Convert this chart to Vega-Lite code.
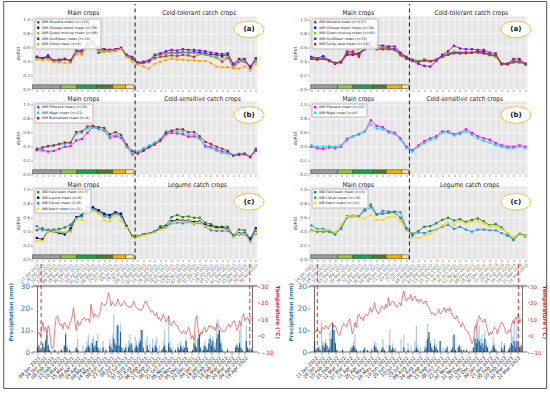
{
"$schema": "https://vega.github.io/schema/vega-lite/v6.json",
"padding": {"left": 2.5, "top": 0.5, "right": 0, "bottom": 0},
"background": "white",
"bounds": "flush",
"columns": 2,
"spacing": {"row": 12, "column": 52},
"resolve": {"scale": {"color": "independent"}, "legend": {"color": "independent"}},
"config": {
  "font": "DejaVu Sans",
  "view": {"fill": "#e5e5e5", "stroke": null},
  "axis": {"domain": false, "tickColor": "#666", "tickSize": 2, "tickWidth": 0.6, "labelFontSize": 4.2, "labelColor": "#555", "labelPadding": 1, "gridColor": "white", "gridWidth": 0.7, "titleFontSize": 4.6, "titleFontWeight": "normal", "titleColor": "#333", "titlePadding": 2, "labelFlush": false},
  "legend": {"orient": "top-left", "offset": 2, "padding": 2, "labelFontSize": 3.4, "labelColor": "#222", "symbolSize": 6, "symbolType": "square", "symbolStrokeWidth": 0, "rowPadding": 0.5, "fillColor": "rgba(255,255,255,0.85)", "strokeColor": "#bbbbbb", "cornerRadius": 1, "labelLimit": 300, "labelOffset": 2}
},
"datasets": {
  "sl": [{"a":-0.77,"b":4.27,"k":"s1"},{"a":4.27,"b":7.12,"k":"s2"},{"a":7.12,"b":10.74,"k":"s3"},{"a":10.74,"b":13.5,"k":"s4"},{"a":13.5,"b":15.8,"k":"s5"},{"a":15.8,"b":17.3,"k":"s6"}],
  "sr": [{"a":-0.1,"b":4.4,"k":"s1"},{"a":4.4,"b":7.0,"k":"s2"},{"a":7.0,"b":10.4,"k":"s3"},{"a":10.4,"b":12.6,"k":"s4"},{"a":12.6,"b":15.2,"k":"s5"},{"a":15.2,"b":16.4,"k":"s6"}],
  "la": [
{"i":0,"mu":0.45,"or":0.47,"gm":0.45,"su":0.47,"gr":0.43},
{"i":1,"mu":0.44,"or":0.45,"gm":0.44,"su":0.45,"gr":0.42},
{"i":2,"mu":0.45,"or":0.49,"gm":0.46,"su":0.47,"gr":0.43},
{"i":3,"mu":0.41,"or":0.42,"gm":0.42,"su":0.42,"gr":0.40},
{"i":4,"mu":0.41,"or":0.42,"gm":0.42,"su":0.43,"gr":0.39},
{"i":5,"mu":0.43,"or":0.44,"gm":0.43,"su":0.44,"gr":0.38},
{"i":6,"mu":0.40,"or":0.41,"gm":0.41,"su":0.42,"gr":0.38},
{"i":7,"mu":0.53,"or":0.55,"gm":0.54,"su":0.56,"gr":0.50},
{"i":8,"mu":0.53,"or":0.55,"gm":0.54,"su":0.56,"gr":0.50},
{"i":9,"mu":0.63,"or":0.64,"gm":0.64,"su":0.66,"gr":0.60},
{"i":10,"mu":0.66,"or":0.67,"gm":0.67,"su":0.69,"gr":0.64},
{"i":11,"mu":0.61,"or":0.53,"gm":0.56,"su":0.57,"gr":0.55},
{"i":12,"mu":0.58,"or":0.55,"gm":0.56,"su":0.58,"gr":0.54},
{"i":13,"mu":0.57,"or":0.55,"gm":0.56,"su":0.57,"gr":0.55},
{"i":14,"mu":0.58,"or":0.56,"gm":0.57,"su":0.58,"gr":0.56},
{"i":15,"mu":0.59,"or":0.59,"gm":0.59,"su":0.60,"gr":0.58},
{"i":16,"mu":0.48,"or":0.49,"gm":0.49,"su":0.50,"gr":0.47},
{"i":17,"mu":0.44,"or":0.45,"gm":0.46,"su":0.47,"gr":0.40},
{"i":18,"mu":0.37,"or":0.37,"gm":0.38,"su":0.39,"gr":0.36},
{"i":19,"mu":0.38,"or":0.39,"gm":0.39,"su":0.40,"gr":0.33},
{"i":20,"mu":0.40,"or":0.41,"gm":0.41,"su":0.42,"gr":0.30},
{"i":21,"mu":0.45,"or":0.48,"gm":0.48,"su":0.50,"gr":0.37},
{"i":22,"mu":0.47,"or":0.50,"gm":0.50,"su":0.52,"gr":0.40},
{"i":23,"mu":0.48,"or":0.52,"gm":0.51,"su":0.55,"gr":0.42},
{"i":24,"mu":0.49,"or":0.53,"gm":0.52,"su":0.57,"gr":0.44},
{"i":25,"mu":0.48,"or":0.52,"gm":0.51,"su":0.56,"gr":0.43},
{"i":26,"mu":0.50,"or":0.54,"gm":0.53,"su":0.58,"gr":0.43},
{"i":27,"mu":0.49,"or":0.53,"gm":0.52,"su":0.57,"gr":0.42},
{"i":28,"mu":0.47,"or":0.54,"gm":0.52,"su":0.57,"gr":0.42},
{"i":29,"mu":0.51,"or":0.53,"gm":0.51,"su":0.56,"gr":0.41},
{"i":30,"mu":0.50,"or":0.52,"gm":0.50,"su":0.55,"gr":0.41},
{"i":31,"mu":0.48,"or":0.50,"gm":0.48,"su":0.53,"gr":0.38},
{"i":32,"mu":0.46,"or":0.50,"gm":0.47,"su":0.52,"gr":0.33},
{"i":33,"mu":0.40,"or":0.48,"gm":0.45,"su":0.51,"gr":0.32},
{"i":34,"mu":0.46,"or":0.50,"gm":0.47,"su":0.52,"gr":0.32},
{"i":35,"mu":0.31,"or":0.35,"gm":0.34,"su":0.37,"gr":0.31},
{"i":36,"mu":0.40,"or":0.42,"gm":0.41,"su":0.44,"gr":0.30},
{"i":37,"mu":0.40,"or":0.42,"gm":0.41,"su":0.44,"gr":0.33},
{"i":38,"mu":0.31,"or":0.33,"gm":0.32,"su":0.32,"gr":0.27},
{"i":39,"mu":0.41,"or":0.44,"gm":0.42,"su":0.45,"gr":0.37}
  ],
  "lb": [
{"i":0,"ph":0.35,"ni":0.38,"bu":0.36},
{"i":1,"ph":0.35,"ni":0.37,"bu":0.39},
{"i":2,"ph":0.33,"ni":0.40,"bu":0.41},
{"i":3,"ph":0.34,"ni":0.41,"bu":0.42},
{"i":4,"ph":0.37,"ni":0.43,"bu":0.44},
{"i":5,"ph":0.40,"ni":0.44,"bu":0.46},
{"i":6,"ph":0.41,"ni":0.45,"bu":0.46},
{"i":7,"ph":0.49,"ni":0.58,"bu":0.61},
{"i":8,"ph":0.51,"ni":0.60,"bu":0.62},
{"i":9,"ph":0.60,"ni":0.66,"bu":0.69},
{"i":10,"ph":0.68,"ni":0.68,"bu":0.70},
{"i":11,"ph":0.66,"ni":0.65,"bu":0.68},
{"i":12,"ph":0.63,"ni":0.64,"bu":0.67},
{"i":13,"ph":0.53,"ni":0.55,"bu":0.58},
{"i":14,"ph":0.55,"ni":0.57,"bu":0.61},
{"i":15,"ph":0.53,"ni":0.55,"bu":0.57},
{"i":16,"ph":0.40,"ni":0.41,"bu":0.43},
{"i":17,"ph":0.29,"ni":0.31,"bu":0.34},
{"i":18,"ph":0.32,"ni":0.33,"bu":0.30},
{"i":19,"ph":0.36,"ni":0.38,"bu":0.34},
{"i":20,"ph":0.40,"ni":0.42,"bu":0.39},
{"i":21,"ph":0.44,"ni":0.46,"bu":0.43},
{"i":22,"ph":0.48,"ni":0.50,"bu":0.50},
{"i":23,"ph":0.58,"ni":0.62,"bu":0.60},
{"i":24,"ph":0.60,"ni":0.63,"bu":0.63},
{"i":25,"ph":0.59,"ni":0.61,"bu":0.65},
{"i":26,"ph":0.58,"ni":0.62,"bu":0.65},
{"i":27,"ph":0.54,"ni":0.57,"bu":0.61},
{"i":28,"ph":0.55,"ni":0.57,"bu":0.61},
{"i":29,"ph":0.52,"ni":0.52,"bu":0.55},
{"i":30,"ph":0.41,"ni":0.39,"bu":0.47},
{"i":31,"ph":0.40,"ni":0.38,"bu":0.44},
{"i":32,"ph":0.36,"ni":0.34,"bu":0.40},
{"i":33,"ph":0.33,"ni":0.31,"bu":0.37},
{"i":34,"ph":0.32,"ni":0.30,"bu":0.34},
{"i":35,"ph":0.28,"ni":0.28,"bu":0.27},
{"i":36,"ph":0.28,"ni":0.30,"bu":0.29},
{"i":37,"ph":0.29,"ni":0.30,"bu":0.30},
{"i":38,"ph":0.25,"ni":0.26,"bu":0.25},
{"i":39,"ph":0.34,"ni":0.38,"bu":0.36}
  ],
  "lc": [
{"i":0,"fb":0.42,"lu":0.31,"cl":0.48,"ve":0.27},
{"i":1,"fb":0.45,"lu":0.29,"cl":0.42,"ve":0.27},
{"i":2,"fb":0.40,"lu":0.41,"cl":0.43,"ve":0.40},
{"i":3,"fb":0.43,"lu":0.40,"cl":0.42,"ve":0.40},
{"i":4,"fb":0.44,"lu":0.38,"cl":0.40,"ve":0.40},
{"i":5,"fb":0.46,"lu":0.36,"cl":0.38,"ve":0.40},
{"i":6,"fb":0.50,"lu":0.45,"cl":0.41,"ve":0.39},
{"i":7,"fb":0.60,"lu":0.61,"cl":0.60,"ve":0.57},
{"i":8,"fb":0.64,"lu":0.63,"cl":0.62,"ve":0.57},
{"i":9,"fb":0.75,"lu":0.75,"cl":0.73,"ve":0.70},
{"i":10,"fb":0.73,"lu":0.75,"cl":0.72,"ve":0.70},
{"i":11,"fb":0.70,"lu":0.71,"cl":0.68,"ve":0.66},
{"i":12,"fb":0.64,"lu":0.66,"cl":0.62,"ve":0.56},
{"i":13,"fb":0.63,"lu":0.64,"cl":0.60,"ve":0.55},
{"i":14,"fb":0.67,"lu":0.68,"cl":0.66,"ve":0.63},
{"i":15,"fb":0.64,"lu":0.66,"cl":0.62,"ve":0.56},
{"i":16,"fb":0.48,"lu":0.48,"cl":0.47,"ve":0.46},
{"i":17,"fb":0.34,"lu":0.33,"cl":0.33,"ve":0.32},
{"i":18,"fb":0.34,"lu":0.33,"cl":0.33,"ve":0.33},
{"i":19,"fb":0.36,"lu":0.36,"cl":0.36,"ve":0.35},
{"i":20,"fb":0.38,"lu":0.38,"cl":0.38,"ve":0.37},
{"i":21,"fb":0.40,"lu":0.40,"cl":0.40,"ve":0.39},
{"i":22,"fb":0.48,"lu":0.45,"cl":0.44,"ve":0.43},
{"i":23,"fb":0.49,"lu":0.47,"cl":0.46,"ve":0.46},
{"i":24,"fb":0.61,"lu":0.55,"cl":0.52,"ve":0.53},
{"i":25,"fb":0.64,"lu":0.57,"cl":0.53,"ve":0.55},
{"i":26,"fb":0.61,"lu":0.56,"cl":0.52,"ve":0.55},
{"i":27,"fb":0.62,"lu":0.56,"cl":0.54,"ve":0.55},
{"i":28,"fb":0.60,"lu":0.54,"cl":0.51,"ve":0.52},
{"i":29,"fb":0.60,"lu":0.55,"cl":0.53,"ve":0.54},
{"i":30,"fb":0.53,"lu":0.50,"cl":0.47,"ve":0.48},
{"i":31,"fb":0.51,"lu":0.48,"cl":0.42,"ve":0.46},
{"i":32,"fb":0.47,"lu":0.46,"cl":0.41,"ve":0.44},
{"i":33,"fb":0.47,"lu":0.46,"cl":0.41,"ve":0.44},
{"i":34,"fb":0.47,"lu":0.44,"cl":0.41,"ve":0.43},
{"i":35,"fb":0.35,"lu":0.33,"cl":0.34,"ve":0.32},
{"i":36,"fb":0.43,"lu":0.38,"cl":0.36,"ve":0.37},
{"i":37,"fb":0.42,"lu":0.38,"cl":0.36,"ve":0.37},
{"i":38,"fb":0.29,"lu":0.30,"cl":0.27,"ve":0.24},
{"i":39,"fb":0.40,"lu":0.45,"cl":0.37,"ve":0.38}
  ],
  "ra": [
{"i":0,"mu":0.45,"or":0.47,"gm":0.45,"su":0.44,"tr":0.44},
{"i":1,"mu":0.44,"or":0.45,"gm":0.44,"su":0.43,"tr":0.43},
{"i":2,"mu":0.45,"or":0.48,"gm":0.45,"su":0.44,"tr":0.44},
{"i":3,"mu":0.41,"or":0.42,"gm":0.42,"su":0.42,"tr":0.41},
{"i":4,"mu":0.38,"or":0.38,"gm":0.39,"su":0.37,"tr":0.38},
{"i":5,"mu":0.39,"or":0.40,"gm":0.40,"su":0.39,"tr":0.40},
{"i":6,"mu":0.55,"or":0.50,"gm":0.52,"su":0.50,"tr":0.53},
{"i":7,"mu":0.55,"or":0.50,"gm":0.53,"su":0.50,"tr":0.53},
{"i":8,"mu":0.47,"or":0.52,"gm":0.58,"su":0.52,"tr":0.50},
{"i":9,"mu":0.60,"or":0.58,"gm":0.60,"su":0.60,"tr":0.58},
{"i":10,"mu":0.62,"or":0.63,"gm":0.63,"su":0.68,"tr":0.62},
{"i":11,"mu":0.58,"or":0.60,"gm":0.60,"su":0.64,"tr":0.58},
{"i":12,"mu":0.58,"or":0.60,"gm":0.60,"su":0.63,"tr":0.58},
{"i":13,"mu":0.58,"or":0.60,"gm":0.59,"su":0.62,"tr":0.58},
{"i":14,"mu":0.57,"or":0.58,"gm":0.57,"su":0.62,"tr":0.57},
{"i":15,"mu":0.50,"or":0.52,"gm":0.51,"su":0.53,"tr":0.49},
{"i":16,"mu":0.45,"or":0.46,"gm":0.45,"su":0.47,"tr":0.44},
{"i":17,"mu":0.42,"or":0.43,"gm":0.43,"su":0.41,"tr":0.42},
{"i":18,"mu":0.40,"or":0.41,"gm":0.41,"su":0.37,"tr":0.40},
{"i":19,"mu":0.41,"or":0.43,"gm":0.42,"su":0.34,"tr":0.42},
{"i":20,"mu":0.40,"or":0.41,"gm":0.40,"su":0.33,"tr":0.41},
{"i":21,"mu":0.42,"or":0.43,"gm":0.42,"su":0.41,"tr":0.42},
{"i":22,"mu":0.47,"or":0.49,"gm":0.48,"su":0.50,"tr":0.47},
{"i":23,"mu":0.50,"or":0.51,"gm":0.52,"su":0.55,"tr":0.50},
{"i":24,"mu":0.53,"or":0.54,"gm":0.55,"su":0.63,"tr":0.52},
{"i":25,"mu":0.52,"or":0.53,"gm":0.54,"su":0.59,"tr":0.52},
{"i":26,"mu":0.52,"or":0.53,"gm":0.54,"su":0.58,"tr":0.53},
{"i":27,"mu":0.53,"or":0.53,"gm":0.54,"su":0.58,"tr":0.53},
{"i":28,"mu":0.54,"or":0.55,"gm":0.53,"su":0.57,"tr":0.53},
{"i":29,"mu":0.53,"or":0.54,"gm":0.51,"su":0.57,"tr":0.52},
{"i":30,"mu":0.50,"or":0.50,"gm":0.49,"su":0.53,"tr":0.50},
{"i":31,"mu":0.49,"or":0.48,"gm":0.47,"su":0.52,"tr":0.49},
{"i":32,"mu":0.37,"or":0.36,"gm":0.36,"su":0.37,"tr":0.37},
{"i":33,"mu":0.37,"or":0.36,"gm":0.36,"su":0.37,"tr":0.37},
{"i":34,"mu":0.40,"or":0.39,"gm":0.40,"su":0.44,"tr":0.41},
{"i":35,"mu":0.40,"or":0.39,"gm":0.40,"su":0.44,"tr":0.41},
{"i":36,"mu":0.37,"or":0.37,"gm":0.36,"su":0.36,"tr":0.37}
  ],
  "rb": [
{"i":0,"ph":0.40,"ni":0.42},{"i":1,"ph":0.38,"ni":0.40},{"i":2,"ph":0.37,"ni":0.40},{"i":3,"ph":0.39,"ni":0.41},
{"i":4,"ph":0.38,"ni":0.40},{"i":5,"ph":0.40,"ni":0.42},{"i":6,"ph":0.50,"ni":0.52},{"i":7,"ph":0.55,"ni":0.55},
{"i":8,"ph":0.58,"ni":0.57},{"i":9,"ph":0.62,"ni":0.62},{"i":10,"ph":0.78,"ni":0.72},{"i":11,"ph":0.70,"ni":0.66},
{"i":12,"ph":0.68,"ni":0.65},{"i":13,"ph":0.62,"ni":0.60},{"i":14,"ph":0.60,"ni":0.58},{"i":15,"ph":0.52,"ni":0.50},
{"i":16,"ph":0.40,"ni":0.38},{"i":17,"ph":0.35,"ni":0.33},{"i":18,"ph":0.42,"ni":0.40},{"i":19,"ph":0.48,"ni":0.45},
{"i":20,"ph":0.52,"ni":0.50},{"i":21,"ph":0.55,"ni":0.52},{"i":22,"ph":0.62,"ni":0.60},{"i":23,"ph":0.62,"ni":0.60},
{"i":24,"ph":0.58,"ni":0.56},{"i":25,"ph":0.60,"ni":0.58},{"i":26,"ph":0.65,"ni":0.62},{"i":27,"ph":0.60,"ni":0.57},
{"i":28,"ph":0.55,"ni":0.52},{"i":29,"ph":0.52,"ni":0.48},{"i":30,"ph":0.50,"ni":0.46},{"i":31,"ph":0.45,"ni":0.42},
{"i":32,"ph":0.42,"ni":0.40},{"i":33,"ph":0.40,"ni":0.38},{"i":34,"ph":0.40,"ni":0.38},{"i":35,"ph":0.42,"ni":0.40},
{"i":36,"ph":0.40,"ni":0.38}
  ],
  "rc": [
{"i":0,"fb":0.42,"cl":0.49,"ve":0.41},{"i":1,"fb":0.40,"cl":0.44,"ve":0.42},{"i":2,"fb":0.40,"cl":0.44,"ve":0.42},
{"i":3,"fb":0.40,"cl":0.41,"ve":0.43},{"i":4,"fb":0.36,"cl":0.38,"ve":0.39},{"i":5,"fb":0.45,"cl":0.44,"ve":0.50},
{"i":6,"fb":0.62,"cl":0.60,"ve":0.61},{"i":7,"fb":0.63,"cl":0.62,"ve":0.63},{"i":8,"fb":0.62,"cl":0.62,"ve":0.60},
{"i":9,"fb":0.73,"cl":0.70,"ve":0.59},{"i":10,"fb":0.79,"cl":0.75,"ve":0.64},{"i":11,"fb":0.65,"cl":0.64,"ve":0.57},
{"i":12,"fb":0.66,"cl":0.70,"ve":0.57},{"i":13,"fb":0.67,"cl":0.69,"ve":0.61},{"i":14,"fb":0.68,"cl":0.69,"ve":0.62},
{"i":15,"fb":0.60,"cl":0.68,"ve":0.55},{"i":16,"fb":0.45,"cl":0.44,"ve":0.41},{"i":17,"fb":0.37,"cl":0.34,"ve":0.31},
{"i":18,"fb":0.41,"cl":0.39,"ve":0.31},{"i":19,"fb":0.47,"cl":0.38,"ve":0.35},{"i":20,"fb":0.48,"cl":0.41,"ve":0.37},
{"i":21,"fb":0.52,"cl":0.43,"ve":0.42},{"i":22,"fb":0.57,"cl":0.47,"ve":0.49},{"i":23,"fb":0.60,"cl":0.50,"ve":0.53},
{"i":24,"fb":0.56,"cl":0.44,"ve":0.50},{"i":25,"fb":0.58,"cl":0.47,"ve":0.55},{"i":26,"fb":0.54,"cl":0.43,"ve":0.52},
{"i":27,"fb":0.57,"cl":0.40,"ve":0.54},{"i":28,"fb":0.59,"cl":0.43,"ve":0.55},{"i":29,"fb":0.55,"cl":0.43,"ve":0.52},
{"i":30,"fb":0.49,"cl":0.42,"ve":0.48},{"i":31,"fb":0.51,"cl":0.42,"ve":0.48},{"i":32,"fb":0.46,"cl":0.38,"ve":0.44},
{"i":33,"fb":0.37,"cl":0.34,"ve":0.38},{"i":34,"fb":0.28,"cl":0.30,"ve":0.32},{"i":35,"fb":0.37,"cl":0.38,"ve":0.38},
{"i":36,"fb":0.33,"cl":0.35,"ve":0.34}
  ],
  "bl": [
{"d":"2021-01-09","t":1,"p":2,"q":0},{"d":"2021-01-12","t":2,"p":3,"q":1},{"d":"2021-01-15","t":0,"p":1,"q":0},{"d":"2021-01-18","t":3,"p":0,"q":2},
{"d":"2021-01-21","t":8,"p":4,"q":0},{"d":"2021-01-24","t":3,"p":2,"q":0},{"d":"2021-01-27","t":5,"p":5,"q":6},{"d":"2021-01-30","t":1,"p":8,"q":10},
{"d":"2021-02-02","t":6,"p":3,"q":4},{"d":"2021-02-05","t":4,"p":1,"q":0},{"d":"2021-02-08","t":-5,"p":0,"q":0},{"d":"2021-02-11","t":-8,"p":0,"q":0},
{"d":"2021-02-14","t":-7,"p":0,"q":1},{"d":"2021-02-17","t":5,"p":1,"q":0},{"d":"2021-02-20","t":11,"p":0,"q":0},{"d":"2021-02-23","t":12,"p":0,"q":0},
{"d":"2021-02-26","t":8,"p":0,"q":0},{"d":"2021-03-01","t":6,"p":0,"q":1},{"d":"2021-03-04","t":7,"p":1,"q":0},{"d":"2021-03-07","t":4,"p":0,"q":0},
{"d":"2021-03-10","t":8,"p":3,"q":0},{"d":"2021-03-13","t":7,"p":8,"q":9},{"d":"2021-03-16","t":5,"p":2,"q":3},{"d":"2021-03-19","t":4,"p":0,"q":0},
{"d":"2021-03-22","t":7,"p":1,"q":0},{"d":"2021-03-25","t":9,"p":0,"q":0},{"d":"2021-03-28","t":12,"p":0,"q":0},{"d":"2021-03-31","t":17,"p":0,"q":0},
{"d":"2021-04-03","t":8,"p":0,"q":1},{"d":"2021-04-06","t":3,"p":2,"q":0},{"d":"2021-04-09","t":9,"p":1,"q":6},{"d":"2021-04-12","t":6,"p":0,"q":0},
{"d":"2021-04-15","t":7,"p":0,"q":0},{"d":"2021-04-18","t":9,"p":0,"q":0},{"d":"2021-04-21","t":10,"p":0,"q":3},{"d":"2021-04-24","t":11,"p":0,"q":0},
{"d":"2021-04-27","t":9,"p":1,"q":0},{"d":"2021-04-30","t":10,"p":2,"q":5},{"d":"2021-05-03","t":10,"p":3,"q":8},{"d":"2021-05-06","t":8,"p":2,"q":0},
{"d":"2021-05-09","t":19,"p":0,"q":4},{"d":"2021-05-12","t":14,"p":4,"q":6},{"d":"2021-05-15","t":11,"p":2,"q":7},{"d":"2021-05-18","t":13,"p":3,"q":0},
{"d":"2021-05-21","t":12,"p":5,"q":4},{"d":"2021-05-24","t":11,"p":2,"q":8},{"d":"2021-05-27","t":12,"p":1,"q":0},{"d":"2021-05-30","t":15,"p":0,"q":2},
{"d":"2021-06-02","t":20,"p":0,"q":0},{"d":"2021-06-05","t":19,"p":2,"q":5},{"d":"2021-06-08","t":18,"p":0,"q":0},{"d":"2021-06-11","t":19,"p":1,"q":0},
{"d":"2021-06-14","t":21,"p":0,"q":0},{"d":"2021-06-17","t":26,"p":0,"q":0},{"d":"2021-06-20","t":23,"p":3,"q":6},{"d":"2021-06-23","t":18,"p":2,"q":4},
{"d":"2021-06-26","t":20,"p":1,"q":8},{"d":"2021-06-29","t":19,"p":6,"q":17},{"d":"2021-07-02","t":18,"p":4,"q":0},{"d":"2021-07-05","t":19,"p":3,"q":12},
{"d":"2021-07-08","t":22,"p":12,"q":13},{"d":"2021-07-11","t":20,"p":3,"q":4},{"d":"2021-07-14","t":18,"p":9,"q":13},{"d":"2021-07-17","t":18,"p":2,"q":0},
{"d":"2021-07-20","t":20,"p":0,"q":2},{"d":"2021-07-23","t":21,"p":1,"q":0},{"d":"2021-07-26","t":19,"p":2,"q":4},{"d":"2021-07-29","t":18,"p":0,"q":0},
{"d":"2021-08-01","t":17,"p":2,"q":5},{"d":"2021-08-04","t":18,"p":3,"q":8},{"d":"2021-08-07","t":17,"p":4,"q":0},{"d":"2021-08-10","t":19,"p":1,"q":3},
{"d":"2021-08-13","t":21,"p":0,"q":0},{"d":"2021-08-16","t":18,"p":2,"q":7},{"d":"2021-08-19","t":17,"p":3,"q":5},{"d":"2021-08-22","t":16,"p":2,"q":0},
{"d":"2021-08-25","t":16,"p":4,"q":6},{"d":"2021-08-28","t":15,"p":5,"q":10},{"d":"2021-08-31","t":16,"p":10,"q":10},{"d":"2021-09-03","t":17,"p":2,"q":0},
{"d":"2021-09-06","t":20,"p":0,"q":0},{"d":"2021-09-09","t":21,"p":0,"q":5},{"d":"2021-09-12","t":19,"p":3,"q":7},{"d":"2021-09-15","t":17,"p":1,"q":0},
{"d":"2021-09-18","t":16,"p":0,"q":4},{"d":"2021-09-21","t":14,"p":0,"q":0},{"d":"2021-09-24","t":15,"p":2,"q":6},{"d":"2021-09-27","t":13,"p":1,"q":0},
{"d":"2021-09-30","t":12,"p":3,"q":5},{"d":"2021-10-03","t":14,"p":2,"q":7},{"d":"2021-10-06","t":10,"p":0,"q":0},{"d":"2021-10-09","t":11,"p":0,"q":3},
{"d":"2021-10-12","t":9,"p":0,"q":0},{"d":"2021-10-15","t":10,"p":1,"q":0},{"d":"2021-10-18","t":13,"p":2,"q":5},{"d":"2021-10-21","t":11,"p":3,"q":10},
{"d":"2021-10-24","t":8,"p":1,"q":0},{"d":"2021-10-27","t":9,"p":0,"q":0},{"d":"2021-10-30","t":12,"p":4,"q":16},{"d":"2021-11-02","t":7,"p":2,"q":5},
{"d":"2021-11-05","t":6,"p":1,"q":0},{"d":"2021-11-08","t":8,"p":0,"q":2},{"d":"2021-11-11","t":9,"p":0,"q":0},{"d":"2021-11-14","t":7,"p":1,"q":0},
{"d":"2021-11-17","t":6,"p":0,"q":0},{"d":"2021-11-20","t":5,"p":2,"q":4},{"d":"2021-11-23","t":3,"p":1,"q":0},{"d":"2021-11-26","t":2,"p":3,"q":5},
{"d":"2021-11-29","t":1,"p":2,"q":0},{"d":"2021-12-02","t":3,"p":1,"q":3},{"d":"2021-12-05","t":2,"p":2,"q":0},{"d":"2021-12-08","t":1,"p":5,"q":6},
{"d":"2021-12-11","t":3,"p":2,"q":0},{"d":"2021-12-14","t":5,"p":0,"q":0},{"d":"2021-12-17","t":2,"p":0,"q":0},{"d":"2021-12-20","t":-2,"p":0,"q":0},
{"d":"2021-12-23","t":0,"p":1,"q":0},{"d":"2021-12-26","t":-3,"p":4,"q":5},{"d":"2021-12-29","t":9,"p":3,"q":8},{"d":"2022-01-01","t":12,"p":2,"q":0},
{"d":"2022-01-04","t":4,"p":6,"q":7},{"d":"2022-01-07","t":-2,"p":8,"q":4},{"d":"2022-01-10","t":2,"p":2,"q":0},{"d":"2022-01-13","t":1,"p":0,"q":0},
{"d":"2022-01-16","t":4,"p":1,"q":3},{"d":"2022-01-19","t":5,"p":3,"q":5},{"d":"2022-01-22","t":2,"p":2,"q":0},{"d":"2022-01-25","t":3,"p":1,"q":0},
{"d":"2022-01-28","t":6,"p":4,"q":6},{"d":"2022-01-31","t":5,"p":6,"q":8},{"d":"2022-02-03","t":6,"p":3,"q":5},{"d":"2022-02-06","t":4,"p":5,"q":7},
{"d":"2022-02-09","t":5,"p":2,"q":0},{"d":"2022-02-12","t":3,"p":1,"q":4},{"d":"2022-02-15","t":7,"p":6,"q":14},{"d":"2022-02-18","t":6,"p":8,"q":15},
{"d":"2022-02-21","t":5,"p":10,"q":10},{"d":"2022-02-24","t":4,"p":4,"q":6},{"d":"2022-02-27","t":3,"p":1,"q":0},{"d":"2022-03-02","t":2,"p":0,"q":0},
{"d":"2022-03-05","t":3,"p":0,"q":0},{"d":"2022-03-08","t":4,"p":0,"q":0},{"d":"2022-03-11","t":6,"p":1,"q":2},{"d":"2022-03-14","t":7,"p":0,"q":0},
{"d":"2022-03-17","t":5,"p":0,"q":0},{"d":"2022-03-20","t":6,"p":0,"q":0},{"d":"2022-03-23","t":8,"p":0,"q":0},{"d":"2022-03-26","t":9,"p":0,"q":0},
{"d":"2022-03-29","t":7,"p":2,"q":3},{"d":"2022-04-01","t":3,"p":3,"q":4},{"d":"2022-04-04","t":5,"p":2,"q":0},{"d":"2022-04-07","t":9,"p":4,"q":10},
{"d":"2022-04-10","t":6,"p":2,"q":12},{"d":"2022-04-13","t":11,"p":1,"q":0},{"d":"2022-04-16","t":13,"p":0,"q":0},{"d":"2022-04-19","t":9,"p":0,"q":0},
{"d":"2022-04-22","t":10,"p":5,"q":12},{"d":"2022-04-25","t":11,"p":2,"q":0},{"d":"2022-04-28","t":9,"p":1,"q":0},{"d":"2022-05-01","t":10,"p":0,"q":0},
{"d":"2022-05-04","t":11,"p":1,"q":2}
  ],
  "br": [
{"d":"2022-01-10","t":3,"p":5,"q":0},{"d":"2022-01-13","t":2,"p":1,"q":2},{"d":"2022-01-16","t":4,"p":0,"q":0},{"d":"2022-01-19","t":3,"p":2,"q":3},
{"d":"2022-01-22","t":1,"p":1,"q":0},{"d":"2022-01-25","t":3,"p":0,"q":14},{"d":"2022-01-28","t":5,"p":3,"q":5},{"d":"2022-01-31","t":4,"p":2,"q":4},
{"d":"2022-02-03","t":6,"p":4,"q":6},{"d":"2022-02-06","t":5,"p":3,"q":0},{"d":"2022-02-09","t":4,"p":1,"q":2},{"d":"2022-02-12","t":6,"p":2,"q":9},
{"d":"2022-02-15","t":7,"p":6,"q":10},{"d":"2022-02-18","t":8,"p":13,"q":5},{"d":"2022-02-21","t":5,"p":10,"q":6},{"d":"2022-02-24","t":6,"p":4,"q":0},
{"d":"2022-02-27","t":3,"p":1,"q":0},{"d":"2022-03-02","t":1,"p":0,"q":0},{"d":"2022-03-05","t":0,"p":0,"q":0},{"d":"2022-03-08","t":3,"p":0,"q":0},
{"d":"2022-03-11","t":6,"p":1,"q":0},{"d":"2022-03-14","t":7,"p":0,"q":0},{"d":"2022-03-17","t":6,"p":0,"q":0},{"d":"2022-03-20","t":5,"p":0,"q":0},
{"d":"2022-03-23","t":8,"p":0,"q":0},{"d":"2022-03-26","t":10,"p":0,"q":0},{"d":"2022-03-29","t":7,"p":1,"q":2},{"d":"2022-04-01","t":1,"p":2,"q":3},
{"d":"2022-04-04","t":3,"p":3,"q":5},{"d":"2022-04-07","t":8,"p":2,"q":8},{"d":"2022-04-10","t":5,"p":1,"q":0},{"d":"2022-04-13","t":12,"p":0,"q":0},
{"d":"2022-04-16","t":13,"p":0,"q":0},{"d":"2022-04-19","t":10,"p":0,"q":1},{"d":"2022-04-22","t":11,"p":0,"q":0},{"d":"2022-04-25","t":9,"p":1,"q":0},
{"d":"2022-04-28","t":12,"p":2,"q":0},{"d":"2022-05-01","t":13,"p":0,"q":0},{"d":"2022-05-04","t":12,"p":1,"q":0},{"d":"2022-05-07","t":14,"p":0,"q":0},
{"d":"2022-05-10","t":17,"p":0,"q":0},{"d":"2022-05-13","t":14,"p":1,"q":0},{"d":"2022-05-16","t":16,"p":0,"q":2},{"d":"2022-05-19","t":20,"p":3,"q":5},
{"d":"2022-05-22","t":16,"p":2,"q":4},{"d":"2022-05-25","t":14,"p":1,"q":0},{"d":"2022-05-28","t":13,"p":0,"q":0},{"d":"2022-05-31","t":15,"p":0,"q":0},
{"d":"2022-06-03","t":18,"p":1,"q":2},{"d":"2022-06-06","t":17,"p":2,"q":6},{"d":"2022-06-09","t":16,"p":1,"q":0},{"d":"2022-06-12","t":19,"p":0,"q":0},
{"d":"2022-06-15","t":17,"p":0,"q":0},{"d":"2022-06-18","t":23,"p":0,"q":3},{"d":"2022-06-21","t":18,"p":3,"q":10},{"d":"2022-06-24","t":20,"p":1,"q":0},
{"d":"2022-06-27","t":21,"p":2,"q":4},{"d":"2022-06-30","t":20,"p":1,"q":0},{"d":"2022-07-03","t":18,"p":0,"q":2},{"d":"2022-07-06","t":17,"p":0,"q":0},
{"d":"2022-07-09","t":19,"p":0,"q":0},{"d":"2022-07-12","t":20,"p":0,"q":0},{"d":"2022-07-15","t":18,"p":0,"q":6},{"d":"2022-07-18","t":24,"p":0,"q":0},
{"d":"2022-07-21","t":27,"p":2,"q":8},{"d":"2022-07-24","t":22,"p":0,"q":0},{"d":"2022-07-27","t":21,"p":0,"q":0},{"d":"2022-07-30","t":23,"p":1,"q":4},
{"d":"2022-08-02","t":22,"p":0,"q":0},{"d":"2022-08-05","t":25,"p":0,"q":3},{"d":"2022-08-08","t":21,"p":0,"q":0},{"d":"2022-08-11","t":23,"p":0,"q":0},
{"d":"2022-08-14","t":24,"p":1,"q":5},{"d":"2022-08-17","t":21,"p":2,"q":12},{"d":"2022-08-20","t":22,"p":1,"q":3},{"d":"2022-08-23","t":20,"p":0,"q":0},
{"d":"2022-08-26","t":22,"p":0,"q":2},{"d":"2022-08-29","t":21,"p":0,"q":0},{"d":"2022-09-01","t":19,"p":0,"q":0},{"d":"2022-09-04","t":20,"p":1,"q":3},
{"d":"2022-09-07","t":21,"p":2,"q":5},{"d":"2022-09-10","t":18,"p":6,"q":13},{"d":"2022-09-13","t":17,"p":9,"q":7},{"d":"2022-09-16","t":15,"p":4,"q":5},
{"d":"2022-09-19","t":13,"p":2,"q":0},{"d":"2022-09-22","t":14,"p":1,"q":0},{"d":"2022-09-25","t":12,"p":3,"q":6},{"d":"2022-09-28","t":13,"p":2,"q":4},
{"d":"2022-10-01","t":14,"p":1,"q":0},{"d":"2022-10-04","t":16,"p":0,"q":0},{"d":"2022-10-07","t":13,"p":5,"q":3},{"d":"2022-10-10","t":14,"p":0,"q":0},
{"d":"2022-10-13","t":15,"p":0,"q":2},{"d":"2022-10-16","t":17,"p":0,"q":0},{"d":"2022-10-19","t":14,"p":1,"q":0},{"d":"2022-10-22","t":16,"p":2,"q":3},
{"d":"2022-10-25","t":15,"p":0,"q":0},{"d":"2022-10-28","t":17,"p":0,"q":0},{"d":"2022-10-31","t":14,"p":1,"q":0},{"d":"2022-11-03","t":12,"p":2,"q":7},
{"d":"2022-11-06","t":11,"p":8,"q":4},{"d":"2022-11-09","t":10,"p":1,"q":0},{"d":"2022-11-12","t":12,"p":0,"q":0},{"d":"2022-11-15","t":9,"p":2,"q":3},
{"d":"2022-11-18","t":7,"p":3,"q":0},{"d":"2022-11-21","t":5,"p":1,"q":2},{"d":"2022-11-24","t":8,"p":0,"q":0},{"d":"2022-11-27","t":6,"p":1,"q":0},
{"d":"2022-11-30","t":4,"p":0,"q":0},{"d":"2022-12-03","t":3,"p":1,"q":0},{"d":"2022-12-06","t":2,"p":0,"q":0},{"d":"2022-12-09","t":0,"p":0,"q":0},
{"d":"2022-12-12","t":-3,"p":0,"q":0},{"d":"2022-12-15","t":-5,"p":0,"q":2},{"d":"2022-12-18","t":-2,"p":2,"q":0},{"d":"2022-12-21","t":6,"p":6,"q":7},
{"d":"2022-12-24","t":4,"p":4,"q":14},{"d":"2022-12-27","t":8,"p":6,"q":10},{"d":"2022-12-30","t":12,"p":5,"q":12},{"d":"2023-01-02","t":10,"p":3,"q":6},
{"d":"2023-01-05","t":9,"p":4,"q":8},{"d":"2023-01-08","t":8,"p":2,"q":4},{"d":"2023-01-11","t":10,"p":6,"q":10},{"d":"2023-01-14","t":7,"p":3,"q":5},
{"d":"2023-01-17","t":3,"p":2,"q":0},{"d":"2023-01-20","t":0,"p":0,"q":0},{"d":"2023-01-23","t":2,"p":0,"q":0},{"d":"2023-01-26","t":1,"p":1,"q":0},
{"d":"2023-01-29","t":3,"p":3,"q":7},{"d":"2023-02-01","t":5,"p":2,"q":4},{"d":"2023-02-04","t":4,"p":1,"q":0},{"d":"2023-02-07","t":1,"p":0,"q":0},
{"d":"2023-02-10","t":4,"p":0,"q":0},{"d":"2023-02-13","t":6,"p":0,"q":0},{"d":"2023-02-16","t":8,"p":2,"q":5},{"d":"2023-02-19","t":7,"p":1,"q":0},
{"d":"2023-02-22","t":5,"p":3,"q":4},{"d":"2023-02-25","t":2,"p":0,"q":0},{"d":"2023-02-28","t":1,"p":0,"q":0},{"d":"2023-03-03","t":3,"p":1,"q":0},
{"d":"2023-03-06","t":2,"p":2,"q":3},{"d":"2023-03-09","t":6,"p":4,"q":10},{"d":"2023-03-12","t":9,"p":3,"q":7},{"d":"2023-03-15","t":7,"p":5,"q":15},
{"d":"2023-03-18","t":11,"p":2,"q":4},{"d":"2023-03-21","t":10,"p":5,"q":15},{"d":"2023-03-24","t":13,"p":3,"q":4},{"d":"2023-03-27","t":8,"p":2,"q":3},
{"d":"2023-03-30","t":10,"p":3,"q":2}
  ]
},
"concat": [
  {
   "width": 225, "height": 73,
   "resolve": {"axis": {"x": "independent", "y": "independent"}},
   "layer": [
    {"data": {"values": [{}]}, "mark": {"type": "rect", "fillOpacity": 0, "stroke": "#555", "strokeWidth": 1}, "encoding": {"x": {"datum": -5.9, "axis": null}, "x2": {"datum": 90.8}, "y": {"datum": 1.266, "axis": null}, "y2": {"datum": -4.3}}},
    {"data": {"name": "la"}, "transform": [{"fold": ["mu","or","gm","su","gr"], "as": ["s","v"]}],
     "encoding": {
      "x": {"field": "i", "type": "quantitative", "scale": {"domain": [-0.77, 39.3], "nice": false, "zero": false}, "axis": {"values": [0,1,2,3,4,5,6,7,8,9,10,11,12,13,14,15,16,17,18,19,20,21,22,23,24,25,26,27,28,29,30,31,32,33,34,35,36,37,38,39], "labels": false, "title": null, "grid": true}},
      "y": {"field": "v", "type": "quantitative", "scale": {"domain": [0, 1.05], "nice": false, "zero": false}, "axis": {"values": [0,0.2,0.4,0.6,0.8,1], "format": ".1f", "title": "dpRVI", "grid": true, "labelOverlap": false}},
      "color": {"field": "s", "type": "nominal", "scale": {"domain": ["mu","or","gm","su","gr"], "range": ["#ee1c25","#1010ff","#66dd11","#9400d3","#ffa500"]}, "legend": {"title": null, "labelExpr": "{'mu':'WM-Mustard mean (n=110)','or':'WM-Oilseed radish mean (n=36)','gm':'WM-Green mixture mean (n=86)','su':'WM-Sunflower mean (n=13)','gr':'WM-Grass mean (n=8)'}[datum.value]"}}
     },
     "layer": [
      {"mark": {"type": "line", "strokeWidth": 0.8}},
      {"mark": {"type": "point", "shape": "square", "filled": true, "size": 5, "opacity": 1}}
     ]},
    {"data": {"name": "sl"}, "mark": {"type": "rect", "stroke": "#333", "strokeWidth": 0.5},
     "encoding": {"x": {"field": "a", "type": "quantitative", "axis": null}, "x2": {"field": "b"}, "y": {"datum": 0.012, "axis": null}, "y2": {"datum": 0.068},
      "fill": {"field": "k", "type": "nominal", "scale": {"domain": ["s1","s2","s3","s4","s5","s6"], "range": ["#9c9c9c","#8dc63f","#1aa34a","#4e7b2c","#f2b400","#f8e49a"]}, "legend": null}}},
    {"data": {"values": [{}]}, "mark": {"type": "rule", "strokeDash": [4,3], "color": "#222", "strokeWidth": 1}, "encoding": {"x": {"datum": 17.5, "axis": null}, "y": {"datum": 0, "axis": null}, "y2": {"datum": 1.23}}},
    {"data": {"values": [{}]}, "mark": {"type": "text", "font": "DejaVu Sans Condensed, Liberation Sans, sans-serif", "fontSize": 6.5, "color": "#222"}, "encoding": {"x": {"datum": 8.3, "axis": null}, "y": {"datum": 1.1, "axis": null}, "text": {"value": "Main crops"}}},
    {"data": {"values": [{}]}, "mark": {"type": "text", "font": "DejaVu Sans Condensed, Liberation Sans, sans-serif", "fontSize": 6.5, "color": "#222"}, "encoding": {"x": {"datum": 28.9, "axis": null}, "y": {"datum": 1.1, "axis": null}, "text": {"value": "Cold-tolerant catch crops"}}},
    {"data": {"values": [{}]}, "mark": {"type": "point", "shape": "M-1,0A1,0.55,0,1,0,1,0A1,0.55,0,1,0,-1,0Z", "size": 900, "filled": true, "fill": "white", "stroke": "#f0c23a", "strokeWidth": 1, "opacity": 1}, "encoding": {"x": {"datum": 37.8, "axis": null}, "y": {"datum": 0.865, "axis": null}}},
    {"data": {"values": [{}]}, "mark": {"type": "text", "fontWeight": "bold", "fontSize": 7, "color": "#111"}, "encoding": {"x": {"datum": 37.8, "axis": null}, "y": {"datum": 0.865, "axis": null}, "text": {"value": "(a)"}}}
   ]
  },
  {
   "width": 218, "height": 73,
   "resolve": {"axis": {"x": "independent", "y": "independent"}},
   "layer": [
    {"data": {"name": "ra"}, "transform": [{"fold": ["mu","or","gm","su","tr"], "as": ["s","v"]}],
     "encoding": {
      "x": {"field": "i", "type": "quantitative", "scale": {"domain": [-0.3, 36.35], "nice": false, "zero": false}, "axis": {"values": [0,1,2,3,4,5,6,7,8,9,10,11,12,13,14,15,16,17,18,19,20,21,22,23,24,25,26,27,28,29,30,31,32,33,34,35,36], "labels": false, "title": null, "grid": true}},
      "y": {"field": "v", "type": "quantitative", "scale": {"domain": [0, 1.05], "nice": false, "zero": false}, "axis": {"values": [0,0.2,0.4,0.6,0.8,1], "format": ".1f", "title": "dpRVI", "grid": true, "labelOverlap": false}},
      "color": {"field": "s", "type": "nominal", "scale": {"domain": ["mu","or","gm","su","tr"], "range": ["#ee1c25","#1010ff","#66dd11","#9400d3","#b5343c"]}, "legend": {"title": null, "labelExpr": "{'mu':'WM-Mustard mean (n=117)','or':'WM-Oilseed radish mean (n=38)','gm':'WM-Green mixture mean (n=85)','su':'WM-Sunflower mean (n=15)','tr':'WM-Turnip rape mean (n=20)'}[datum.value]"}}
     },
     "layer": [
      {"mark": {"type": "line", "strokeWidth": 0.8}},
      {"mark": {"type": "point", "shape": "square", "filled": true, "size": 5, "opacity": 1}}
     ]},
    {"data": {"name": "sr"}, "mark": {"type": "rect", "stroke": "#333", "strokeWidth": 0.5},
     "encoding": {"x": {"field": "a", "type": "quantitative", "axis": null}, "x2": {"field": "b"}, "y": {"datum": 0.012, "axis": null}, "y2": {"datum": 0.068},
      "fill": {"field": "k", "type": "nominal", "scale": {"domain": ["s1","s2","s3","s4","s5","s6"], "range": ["#9c9c9c","#8dc63f","#1aa34a","#4e7b2c","#f2b400","#f8e49a"]}, "legend": null}}},
    {"data": {"values": [{}]}, "mark": {"type": "rule", "strokeDash": [4,3], "color": "#222", "strokeWidth": 1}, "encoding": {"x": {"datum": 16.5, "axis": null}, "y": {"datum": 0, "axis": null}, "y2": {"datum": 1.23}}},
    {"data": {"values": [{}]}, "mark": {"type": "text", "font": "DejaVu Sans Condensed, Liberation Sans, sans-serif", "fontSize": 6.5, "color": "#222"}, "encoding": {"x": {"datum": 7.9, "axis": null}, "y": {"datum": 1.1, "axis": null}, "text": {"value": "Main crops"}}},
    {"data": {"values": [{}]}, "mark": {"type": "text", "font": "DejaVu Sans Condensed, Liberation Sans, sans-serif", "fontSize": 6.5, "color": "#222"}, "encoding": {"x": {"datum": 26.9, "axis": null}, "y": {"datum": 1.1, "axis": null}, "text": {"value": "Cold-tolerant catch crops"}}},
    {"data": {"values": [{}]}, "mark": {"type": "point", "shape": "M-1,0A1,0.55,0,1,0,1,0A1,0.55,0,1,0,-1,0Z", "size": 900, "filled": true, "fill": "white", "stroke": "#f0c23a", "strokeWidth": 1, "opacity": 1}, "encoding": {"x": {"datum": 34.4, "axis": null}, "y": {"datum": 0.865, "axis": null}}},
    {"data": {"values": [{}]}, "mark": {"type": "text", "fontWeight": "bold", "fontSize": 7, "color": "#111"}, "encoding": {"x": {"datum": 34.4, "axis": null}, "y": {"datum": 0.865, "axis": null}, "text": {"value": "(a)"}}}
   ]
  },
  {
   "width": 225, "height": 73,
   "resolve": {"axis": {"x": "independent", "y": "independent"}},
   "layer": [
    {"data": {"name": "lb"}, "transform": [{"fold": ["ph","ni","bu"], "as": ["s","v"]}],
     "encoding": {
      "x": {"field": "i", "type": "quantitative", "scale": {"domain": [-0.77, 39.3], "nice": false, "zero": false}, "axis": {"values": [0,1,2,3,4,5,6,7,8,9,10,11,12,13,14,15,16,17,18,19,20,21,22,23,24,25,26,27,28,29,30,31,32,33,34,35,36,37,38,39], "labels": false, "title": null, "grid": true}},
      "y": {"field": "v", "type": "quantitative", "scale": {"domain": [0, 1.05], "nice": false, "zero": false}, "axis": {"values": [0,0.2,0.4,0.6,0.8,1], "format": ".1f", "title": "dpRVI", "grid": true, "labelOverlap": false}},
      "color": {"field": "s", "type": "nominal", "scale": {"domain": ["ph","ni","bu"], "range": ["#ff00ff","#00e1ee","#a52a2a"]}, "legend": {"title": null, "labelExpr": "{'ph':'WM-Phacelia mean (n=20)','ni':'WM-Niger mean (n=13)','bu':'WM-Buckwheat mean (n=8)'}[datum.value]"}}
     },
     "layer": [
      {"mark": {"type": "line", "strokeWidth": 0.8}},
      {"mark": {"type": "point", "shape": "square", "filled": true, "size": 5, "opacity": 1}}
     ]},
    {"data": {"name": "sl"}, "mark": {"type": "rect", "stroke": "#333", "strokeWidth": 0.5},
     "encoding": {"x": {"field": "a", "type": "quantitative", "axis": null}, "x2": {"field": "b"}, "y": {"datum": 0.012, "axis": null}, "y2": {"datum": 0.068},
      "fill": {"field": "k", "type": "nominal", "scale": {"domain": ["s1","s2","s3","s4","s5","s6"], "range": ["#9c9c9c","#8dc63f","#1aa34a","#4e7b2c","#f2b400","#f8e49a"]}, "legend": null}}},
    {"data": {"values": [{}]}, "mark": {"type": "rule", "strokeDash": [4,3], "color": "#222", "strokeWidth": 1}, "encoding": {"x": {"datum": 17.5, "axis": null}, "y": {"datum": 0, "axis": null}, "y2": {"datum": 1.23}}},
    {"data": {"values": [{}]}, "mark": {"type": "text", "font": "DejaVu Sans Condensed, Liberation Sans, sans-serif", "fontSize": 6.5, "color": "#222"}, "encoding": {"x": {"datum": 8.3, "axis": null}, "y": {"datum": 1.085, "axis": null}, "text": {"value": "Main crops"}}},
    {"data": {"values": [{}]}, "mark": {"type": "text", "font": "DejaVu Sans Condensed, Liberation Sans, sans-serif", "fontSize": 6.5, "color": "#222"}, "encoding": {"x": {"datum": 29.5, "axis": null}, "y": {"datum": 1.085, "axis": null}, "text": {"value": "Cold-sensitive catch crops"}}},
    {"data": {"values": [{}]}, "mark": {"type": "point", "shape": "M-1,0A1,0.55,0,1,0,1,0A1,0.55,0,1,0,-1,0Z", "size": 900, "filled": true, "fill": "white", "stroke": "#f0c23a", "strokeWidth": 1, "opacity": 1}, "encoding": {"x": {"datum": 37.8, "axis": null}, "y": {"datum": 0.855, "axis": null}}},
    {"data": {"values": [{}]}, "mark": {"type": "text", "fontWeight": "bold", "fontSize": 7, "color": "#111"}, "encoding": {"x": {"datum": 37.8, "axis": null}, "y": {"datum": 0.855, "axis": null}, "text": {"value": "(b)"}}}
   ]
  },
  {
   "width": 218, "height": 73,
   "resolve": {"axis": {"x": "independent", "y": "independent"}},
   "layer": [
    {"data": {"name": "rb"}, "transform": [{"fold": ["ph","ni"], "as": ["s","v"]}],
     "encoding": {
      "x": {"field": "i", "type": "quantitative", "scale": {"domain": [-0.3, 36.35], "nice": false, "zero": false}, "axis": {"values": [0,1,2,3,4,5,6,7,8,9,10,11,12,13,14,15,16,17,18,19,20,21,22,23,24,25,26,27,28,29,30,31,32,33,34,35,36], "labels": false, "title": null, "grid": true}},
      "y": {"field": "v", "type": "quantitative", "scale": {"domain": [0, 1.05], "nice": false, "zero": false}, "axis": {"values": [0,0.2,0.4,0.6,0.8,1], "format": ".1f", "title": "dpRVI", "grid": true, "labelOverlap": false}},
      "color": {"field": "s", "type": "nominal", "scale": {"domain": ["ph","ni"], "range": ["#ff00ff","#00e1ee"]}, "legend": {"title": null, "labelExpr": "{'ph':'WM-Phacelia mean (n=13)','ni':'WM-Niger mean (n=8)'}[datum.value]"}}
     },
     "layer": [
      {"mark": {"type": "line", "strokeWidth": 0.8}},
      {"mark": {"type": "point", "shape": "square", "filled": true, "size": 5, "opacity": 1}}
     ]},
    {"data": {"name": "sr"}, "mark": {"type": "rect", "stroke": "#333", "strokeWidth": 0.5},
     "encoding": {"x": {"field": "a", "type": "quantitative", "axis": null}, "x2": {"field": "b"}, "y": {"datum": 0.012, "axis": null}, "y2": {"datum": 0.068},
      "fill": {"field": "k", "type": "nominal", "scale": {"domain": ["s1","s2","s3","s4","s5","s6"], "range": ["#9c9c9c","#8dc63f","#1aa34a","#4e7b2c","#f2b400","#f8e49a"]}, "legend": null}}},
    {"data": {"values": [{}]}, "mark": {"type": "rule", "strokeDash": [4,3], "color": "#222", "strokeWidth": 1}, "encoding": {"x": {"datum": 16.5, "axis": null}, "y": {"datum": 0, "axis": null}, "y2": {"datum": 1.23}}},
    {"data": {"values": [{}]}, "mark": {"type": "text", "font": "DejaVu Sans Condensed, Liberation Sans, sans-serif", "fontSize": 6.5, "color": "#222"}, "encoding": {"x": {"datum": 7.9, "axis": null}, "y": {"datum": 1.085, "axis": null}, "text": {"value": "Main crops"}}},
    {"data": {"values": [{}]}, "mark": {"type": "text", "font": "DejaVu Sans Condensed, Liberation Sans, sans-serif", "fontSize": 6.5, "color": "#222"}, "encoding": {"x": {"datum": 25.8, "axis": null}, "y": {"datum": 1.085, "axis": null}, "text": {"value": "Cold-sensitive catch crops"}}},
    {"data": {"values": [{}]}, "mark": {"type": "point", "shape": "M-1,0A1,0.55,0,1,0,1,0A1,0.55,0,1,0,-1,0Z", "size": 900, "filled": true, "fill": "white", "stroke": "#f0c23a", "strokeWidth": 1, "opacity": 1}, "encoding": {"x": {"datum": 34.4, "axis": null}, "y": {"datum": 0.855, "axis": null}}},
    {"data": {"values": [{}]}, "mark": {"type": "text", "fontWeight": "bold", "fontSize": 7, "color": "#111"}, "encoding": {"x": {"datum": 34.4, "axis": null}, "y": {"datum": 0.855, "axis": null}, "text": {"value": "(b)"}}}
   ]
  },
  {
   "width": 225, "height": 73,
   "resolve": {"axis": {"x": "independent", "y": "independent"}},
   "layer": [
    {"data": {"name": "lc"}, "transform": [{"fold": ["fb","lu","cl","ve"], "as": ["s","v"]}],
     "encoding": {
      "x": {"field": "i", "type": "quantitative", "scale": {"domain": [-0.77, 39.3], "nice": false, "zero": false}, "axis": {"values": [0,1,2,3,4,5,6,7,8,9,10,11,12,13,14,15,16,17,18,19,20,21,22,23,24,25,26,27,28,29,30,31,32,33,34,35,36,37,38,39], "title": null, "grid": true, "labelAngle": -45, "labelAlign": "right", "labelBaseline": "top", "labelFontSize": 4.1, "labelColor": "#666", "labelOverlap": false,
        "labelExpr": "['17 Jan 2021','29 Jan 2021','10 Feb 2021','22 Feb 2021','06 Mar 2021','18 Mar 2021','30 Mar 2021','11 Apr 2021','23 Apr 2021','05 May 2021','17 May 2021','29 May 2021','10 Jun 2021','22 Jun 2021','04 Jul 2021','16 Jul 2021','28 Jul 2021','09 Aug 2021','21 Aug 2021','02 Sep 2021','14 Sep 2021','26 Sep 2021','08 Oct 2021','20 Oct 2021','01 Nov 2021','13 Nov 2021','25 Nov 2021','07 Dec 2021','19 Dec 2021','31 Dec 2021','12 Jan 2022','24 Jan 2022','05 Feb 2022','17 Feb 2022','01 Mar 2022','13 Mar 2022','25 Mar 2022','06 Apr 2022','18 Apr 2022','30 Apr 2022'][datum.value]"}},
      "y": {"field": "v", "type": "quantitative", "scale": {"domain": [0, 1.05], "nice": false, "zero": false}, "axis": {"values": [0,0.2,0.4,0.6,0.8,1], "format": ".1f", "title": "dpRVI", "grid": true, "labelOverlap": false}},
      "color": {"field": "s", "type": "nominal", "scale": {"domain": ["fb","lu","cl","ve"], "range": ["#228b22","#00008b","#1e90ff","#ffd700"]}, "legend": {"title": null, "labelExpr": "{'fb':'WB-Field bean mean (n=7)','lu':'WB-Lupine mean (n=6)','cl':'WB-Clover mean (n=6)','ve':'WB-Vetch mean (n=11)'}[datum.value]"}}
     },
     "layer": [
      {"mark": {"type": "line", "strokeWidth": 0.8}},
      {"mark": {"type": "point", "shape": "square", "filled": true, "size": 5, "opacity": 1}}
     ]},
    {"data": {"name": "sl"}, "mark": {"type": "rect", "stroke": "#333", "strokeWidth": 0.5},
     "encoding": {"x": {"field": "a", "type": "quantitative", "axis": null}, "x2": {"field": "b"}, "y": {"datum": 0.012, "axis": null}, "y2": {"datum": 0.068},
      "fill": {"field": "k", "type": "nominal", "scale": {"domain": ["s1","s2","s3","s4","s5","s6"], "range": ["#9c9c9c","#8dc63f","#1aa34a","#4e7b2c","#f2b400","#f8e49a"]}, "legend": null}}},
    {"data": {"values": [{}]}, "mark": {"type": "rule", "strokeDash": [4,3], "color": "#222", "strokeWidth": 1}, "encoding": {"x": {"datum": 17.5, "axis": null}, "y": {"datum": 0, "axis": null}, "y2": {"datum": 1.23}}},
    {"data": {"values": [{}]}, "mark": {"type": "text", "font": "DejaVu Sans Condensed, Liberation Sans, sans-serif", "fontSize": 6.5, "color": "#222"}, "encoding": {"x": {"datum": 8.3, "axis": null}, "y": {"datum": 1.075, "axis": null}, "text": {"value": "Main crops"}}},
    {"data": {"values": [{}]}, "mark": {"type": "text", "font": "DejaVu Sans Condensed, Liberation Sans, sans-serif", "fontSize": 6.5, "color": "#222"}, "encoding": {"x": {"datum": 28.6, "axis": null}, "y": {"datum": 1.075, "axis": null}, "text": {"value": "Legume catch crops"}}},
    {"data": {"values": [{}]}, "mark": {"type": "point", "shape": "M-1,0A1,0.55,0,1,0,1,0A1,0.55,0,1,0,-1,0Z", "size": 900, "filled": true, "fill": "white", "stroke": "#f0c23a", "strokeWidth": 1, "opacity": 1}, "encoding": {"x": {"datum": 37.8, "axis": null}, "y": {"datum": 0.83, "axis": null}}},
    {"data": {"values": [{}]}, "mark": {"type": "text", "fontWeight": "bold", "fontSize": 7, "color": "#111"}, "encoding": {"x": {"datum": 37.8, "axis": null}, "y": {"datum": 0.83, "axis": null}, "text": {"value": "(c)"}}}
   ]
  },
  {
   "width": 218, "height": 73,
   "resolve": {"axis": {"x": "independent", "y": "independent"}},
   "layer": [
    {"data": {"name": "rc"}, "transform": [{"fold": ["fb","cl","ve"], "as": ["s","v"]}],
     "encoding": {
      "x": {"field": "i", "type": "quantitative", "scale": {"domain": [-0.3, 36.35], "nice": false, "zero": false}, "axis": {"values": [0,1,2,3,4,5,6,7,8,9,10,11,12,13,14,15,16,17,18,19,20,21,22,23,24,25,26,27,28,29,30,31,32,33,34,35,36], "title": null, "grid": true, "labelAngle": -45, "labelAlign": "right", "labelBaseline": "top", "labelFontSize": 4.1, "labelColor": "#666", "labelOverlap": false,
        "labelExpr": "['16 Jan 2022','28 Jan 2022','09 Feb 2022','21 Feb 2022','05 Mar 2022','17 Mar 2022','29 Mar 2022','10 Apr 2022','22 Apr 2022','04 May 2022','16 May 2022','28 May 2022','09 Jun 2022','21 Jun 2022','03 Jul 2022','15 Jul 2022','27 Jul 2022','08 Aug 2022','20 Aug 2022','01 Sep 2022','13 Sep 2022','25 Sep 2022','07 Oct 2022','19 Oct 2022','31 Oct 2022','12 Nov 2022','24 Nov 2022','06 Dec 2022','18 Dec 2022','30 Dec 2022','11 Jan 2023','23 Jan 2023','04 Feb 2023','16 Feb 2023','28 Feb 2023','12 Mar 2023','24 Mar 2023'][datum.value]"}},
      "y": {"field": "v", "type": "quantitative", "scale": {"domain": [0, 1.05], "nice": false, "zero": false}, "axis": {"values": [0,0.2,0.4,0.6,0.8,1], "format": ".1f", "title": "dpRVI", "grid": true, "labelOverlap": false}},
      "color": {"field": "s", "type": "nominal", "scale": {"domain": ["fb","cl","ve"], "range": ["#228b22","#1e90ff","#ffd700"]}, "legend": {"title": null, "labelExpr": "{'fb':'WB-Field bean mean (n=8)','cl':'WB-Clover mean (n=16)','ve':'WB-Vetch mean (n=11)'}[datum.value]"}}
     },
     "layer": [
      {"mark": {"type": "line", "strokeWidth": 0.8}},
      {"mark": {"type": "point", "shape": "square", "filled": true, "size": 5, "opacity": 1}}
     ]},
    {"data": {"name": "sr"}, "mark": {"type": "rect", "stroke": "#333", "strokeWidth": 0.5},
     "encoding": {"x": {"field": "a", "type": "quantitative", "axis": null}, "x2": {"field": "b"}, "y": {"datum": 0.012, "axis": null}, "y2": {"datum": 0.068},
      "fill": {"field": "k", "type": "nominal", "scale": {"domain": ["s1","s2","s3","s4","s5","s6"], "range": ["#9c9c9c","#8dc63f","#1aa34a","#4e7b2c","#f2b400","#f8e49a"]}, "legend": null}}},
    {"data": {"values": [{}]}, "mark": {"type": "rule", "strokeDash": [4,3], "color": "#222", "strokeWidth": 1}, "encoding": {"x": {"datum": 16.5, "axis": null}, "y": {"datum": 0, "axis": null}, "y2": {"datum": 1.23}}},
    {"data": {"values": [{}]}, "mark": {"type": "text", "font": "DejaVu Sans Condensed, Liberation Sans, sans-serif", "fontSize": 6.5, "color": "#222"}, "encoding": {"x": {"datum": 7.9, "axis": null}, "y": {"datum": 1.075, "axis": null}, "text": {"value": "Main crops"}}},
    {"data": {"values": [{}]}, "mark": {"type": "text", "font": "DejaVu Sans Condensed, Liberation Sans, sans-serif", "fontSize": 6.5, "color": "#222"}, "encoding": {"x": {"datum": 26.6, "axis": null}, "y": {"datum": 1.075, "axis": null}, "text": {"value": "Legume catch crops"}}},
    {"data": {"values": [{}]}, "mark": {"type": "point", "shape": "M-1,0A1,0.55,0,1,0,1,0A1,0.55,0,1,0,-1,0Z", "size": 900, "filled": true, "fill": "white", "stroke": "#f0c23a", "strokeWidth": 1, "opacity": 1}, "encoding": {"x": {"datum": 34.4, "axis": null}, "y": {"datum": 0.83, "axis": null}}},
    {"data": {"values": [{}]}, "mark": {"type": "text", "fontWeight": "bold", "fontSize": 7, "color": "#111"}, "encoding": {"x": {"datum": 34.4, "axis": null}, "y": {"datum": 0.83, "axis": null}, "text": {"value": "(c)"}}}
   ]
  },
  {
   "width": 225, "height": 80.5,
   "view": {"fill": null, "stroke": null},
   "data": {"name": "bl"},
   "resolve": {"scale": {"y": "independent"}, "axis": {"x": "independent", "y": "independent"}},
   "layer": [
    {"resolve": {"axis": {"x": "independent", "y": "independent"}},
     "layer": [
      {"transform": [{"fold": ["q","p"], "as": ["k","val"]}], "mark": {"type": "bar", "width": 1.2},
       "encoding": {
        "x": {"field": "d", "type": "temporal", "scale": {"type": "utc", "domain": [{"year":2021,"month":1,"date":9,"utc":true},{"year":2022,"month":5,"date":6,"utc":true}]},
         "axis": {"values": [{"year":2021,"month":1,"date":9,"utc":true},{"year":2021,"month":1,"date":24,"utc":true},{"year":2021,"month":2,"date":8,"utc":true},{"year":2021,"month":2,"date":23,"utc":true},{"year":2021,"month":3,"date":10,"utc":true},{"year":2021,"month":3,"date":25,"utc":true},{"year":2021,"month":4,"date":9,"utc":true},{"year":2021,"month":4,"date":24,"utc":true},{"year":2021,"month":5,"date":9,"utc":true},{"year":2021,"month":5,"date":24,"utc":true},{"year":2021,"month":6,"date":8,"utc":true},{"year":2021,"month":6,"date":23,"utc":true},{"year":2021,"month":7,"date":8,"utc":true},{"year":2021,"month":7,"date":23,"utc":true},{"year":2021,"month":8,"date":7,"utc":true},{"year":2021,"month":8,"date":22,"utc":true},{"year":2021,"month":9,"date":6,"utc":true},{"year":2021,"month":9,"date":21,"utc":true},{"year":2021,"month":10,"date":6,"utc":true},{"year":2021,"month":10,"date":21,"utc":true},{"year":2021,"month":11,"date":5,"utc":true},{"year":2021,"month":11,"date":20,"utc":true},{"year":2021,"month":12,"date":5,"utc":true},{"year":2021,"month":12,"date":20,"utc":true},{"year":2022,"month":1,"date":4,"utc":true},{"year":2022,"month":1,"date":19,"utc":true},{"year":2022,"month":2,"date":3,"utc":true},{"year":2022,"month":2,"date":18,"utc":true},{"year":2022,"month":3,"date":5,"utc":true},{"year":2022,"month":3,"date":20,"utc":true},{"year":2022,"month":4,"date":4,"utc":true},{"year":2022,"month":4,"date":19,"utc":true}],
          "labelExpr": "utcFormat(datum.value, '%d %b %Y')", "labelAngle": -45, "labelAlign": "right", "labelBaseline": "top", "labelFontSize": 4.8, "labelColor": "#222", "tickColor": "#333", "grid": false, "title": null, "labelOverlap": false}},
        "y": {"field": "val", "type": "quantitative", "stack": null, "scale": {"domain": [0, 36.6], "nice": false}, "axis": {"values": [0,10,20,30], "title": "Precipitation (mm)", "titleColor": "#1f77b4", "labelColor": "#1f77b4", "titleFontWeight": "bold", "titleFontSize": 5.5, "labelFontSize": 7.5, "grid": false, "tickColor": "#333", "titlePadding": 6, "labelOverlap": false}},
        "color": {"field": "k", "type": "nominal", "scale": {"domain": ["q","p"], "range": ["#a9cbe4","#1f5f96"]}, "legend": null}
       }},
      {"data": {"values": [{}]}, "mark": {"type": "rule", "color": "#a6a6a6", "strokeWidth": 2.5}, "encoding": {"y": {"datum": 30, "axis": null}}},
      {"data": {"values": [{}]}, "mark": {"type": "rule", "color": "#333", "strokeWidth": 0.7}, "encoding": {"y": {"datum": 0, "axis": null}}},
      {"data": {"values": [{}]}, "mark": {"type": "rule", "color": "#333", "strokeWidth": 0.7}, "encoding": {"x": {"datum": {"year":2021,"month":1,"date":9,"utc":true}, "axis": null}, "y": {"datum": 0, "axis": null}, "y2": {"datum": 30}}},
      {"data": {"values": [{}]}, "mark": {"type": "rule", "color": "#333", "strokeWidth": 0.7}, "encoding": {"x": {"datum": {"year":2022,"month":5,"date":6,"utc":true}, "axis": null}, "y": {"datum": 0, "axis": null}, "y2": {"datum": 30}}},
      {"data": {"values": [{}]}, "mark": {"type": "rule", "color": "#ff2020", "strokeDash": [4,3], "strokeWidth": 1}, "encoding": {"x": {"datum": {"year":2021,"month":1,"date":17,"utc":true}, "axis": null}, "y": {"datum": 0, "axis": null}, "y2": {"datum": 41}}},
      {"data": {"values": [{}]}, "mark": {"type": "rule", "color": "#ff2020", "strokeDash": [4,3], "strokeWidth": 1}, "encoding": {"x": {"datum": {"year":2022,"month":4,"date":30,"utc":true}, "axis": null}, "y": {"datum": 0, "axis": null}, "y2": {"datum": 41}}}
    ]},
    {"mark": {"type": "line", "color": "#d62728", "strokeWidth": 0.7, "opacity": 0.85},
     "encoding": {
      "x": {"field": "d", "type": "temporal", "axis": null},
      "y": {"field": "t", "type": "quantitative", "scale": {"domain": [-10, 38.8], "nice": false, "zero": false}, "axis": {"orient": "right", "values": [-10,0,10,20,30], "title": "Temperature (°C)", "titleColor": "#e41a1c", "labelColor": "#e41a1c", "titleFontWeight": "bold", "titleFontSize": 5.5, "labelFontSize": 6, "grid": false, "tickColor": "#333", "titlePadding": 1, "labelOverlap": false}}
     }}
   ]
  },
  {
   "width": 218, "height": 80.5,
   "view": {"fill": null, "stroke": null},
   "data": {"name": "br"},
   "resolve": {"scale": {"y": "independent"}, "axis": {"x": "independent", "y": "independent"}},
   "layer": [
    {"resolve": {"axis": {"x": "independent", "y": "independent"}},
     "layer": [
      {"transform": [{"fold": ["q","p"], "as": ["k","val"]}], "mark": {"type": "bar", "width": 1.2},
       "encoding": {
        "x": {"field": "d", "type": "temporal", "scale": {"type": "utc", "domain": [{"year":2022,"month":1,"date":10,"utc":true},{"year":2023,"month":4,"date":2,"utc":true}]},
         "axis": {"values": [{"year":2022,"month":1,"date":11,"utc":true},{"year":2022,"month":1,"date":26,"utc":true},{"year":2022,"month":2,"date":10,"utc":true},{"year":2022,"month":2,"date":25,"utc":true},{"year":2022,"month":3,"date":12,"utc":true},{"year":2022,"month":3,"date":27,"utc":true},{"year":2022,"month":4,"date":11,"utc":true},{"year":2022,"month":4,"date":26,"utc":true},{"year":2022,"month":5,"date":11,"utc":true},{"year":2022,"month":5,"date":26,"utc":true},{"year":2022,"month":6,"date":10,"utc":true},{"year":2022,"month":6,"date":25,"utc":true},{"year":2022,"month":7,"date":10,"utc":true},{"year":2022,"month":7,"date":25,"utc":true},{"year":2022,"month":8,"date":9,"utc":true},{"year":2022,"month":8,"date":24,"utc":true},{"year":2022,"month":9,"date":8,"utc":true},{"year":2022,"month":9,"date":23,"utc":true},{"year":2022,"month":10,"date":8,"utc":true},{"year":2022,"month":10,"date":23,"utc":true},{"year":2022,"month":11,"date":7,"utc":true},{"year":2022,"month":11,"date":22,"utc":true},{"year":2022,"month":12,"date":7,"utc":true},{"year":2022,"month":12,"date":22,"utc":true},{"year":2023,"month":1,"date":6,"utc":true},{"year":2023,"month":1,"date":21,"utc":true},{"year":2023,"month":2,"date":5,"utc":true},{"year":2023,"month":2,"date":20,"utc":true},{"year":2023,"month":3,"date":7,"utc":true},{"year":2023,"month":3,"date":22,"utc":true}],
          "labelExpr": "utcFormat(datum.value, '%d %b %Y')", "labelAngle": -45, "labelAlign": "right", "labelBaseline": "top", "labelFontSize": 4.8, "labelColor": "#222", "tickColor": "#333", "grid": false, "title": null, "labelOverlap": false}},
        "y": {"field": "val", "type": "quantitative", "stack": null, "scale": {"domain": [0, 36.6], "nice": false}, "axis": {"values": [0,10,20,30], "title": "Precipitation (mm)", "titleColor": "#1f77b4", "labelColor": "#1f77b4", "titleFontWeight": "bold", "titleFontSize": 5.5, "labelFontSize": 7.5, "grid": false, "tickColor": "#333", "titlePadding": 3, "labelOverlap": false}},
        "color": {"field": "k", "type": "nominal", "scale": {"domain": ["q","p"], "range": ["#a9cbe4","#1f5f96"]}, "legend": null}
       }},
      {"data": {"values": [{}]}, "mark": {"type": "rule", "color": "#a6a6a6", "strokeWidth": 2.5}, "encoding": {"y": {"datum": 30, "axis": null}}},
      {"data": {"values": [{}]}, "mark": {"type": "rule", "color": "#333", "strokeWidth": 0.7}, "encoding": {"y": {"datum": 0, "axis": null}}},
      {"data": {"values": [{}]}, "mark": {"type": "rule", "color": "#333", "strokeWidth": 0.7}, "encoding": {"x": {"datum": {"year":2022,"month":1,"date":10,"utc":true}, "axis": null}, "y": {"datum": 0, "axis": null}, "y2": {"datum": 30}}},
      {"data": {"values": [{}]}, "mark": {"type": "rule", "color": "#333", "strokeWidth": 0.7}, "encoding": {"x": {"datum": {"year":2023,"month":4,"date":2,"utc":true}, "axis": null}, "y": {"datum": 0, "axis": null}, "y2": {"datum": 30}}},
      {"data": {"values": [{}]}, "mark": {"type": "rule", "color": "#ff2020", "strokeDash": [4,3], "strokeWidth": 1}, "encoding": {"x": {"datum": {"year":2022,"month":1,"date":16,"utc":true}, "axis": null}, "y": {"datum": 0, "axis": null}, "y2": {"datum": 41}}},
      {"data": {"values": [{}]}, "mark": {"type": "rule", "color": "#ff2020", "strokeDash": [4,3], "strokeWidth": 1}, "encoding": {"x": {"datum": {"year":2023,"month":3,"date":24,"utc":true}, "axis": null}, "y": {"datum": 0, "axis": null}, "y2": {"datum": 41}}}
    ]},
    {"mark": {"type": "line", "color": "#d62728", "strokeWidth": 0.7, "opacity": 0.85},
     "encoding": {
      "x": {"field": "d", "type": "temporal", "axis": null},
      "y": {"field": "t", "type": "quantitative", "scale": {"domain": [-10, 38.8], "nice": false, "zero": false}, "axis": {"orient": "right", "values": [-10,0,10,20,30], "title": "Temperature (°C)", "titleColor": "#e41a1c", "labelColor": "#e41a1c", "titleFontWeight": "bold", "titleFontSize": 5.5, "labelFontSize": 5.5, "labelPadding": 0.5, "grid": false, "tickColor": "#333", "tickSize": 1.5, "titlePadding": 0, "labelOverlap": false}}
     }}
   ]
  }
]
}
